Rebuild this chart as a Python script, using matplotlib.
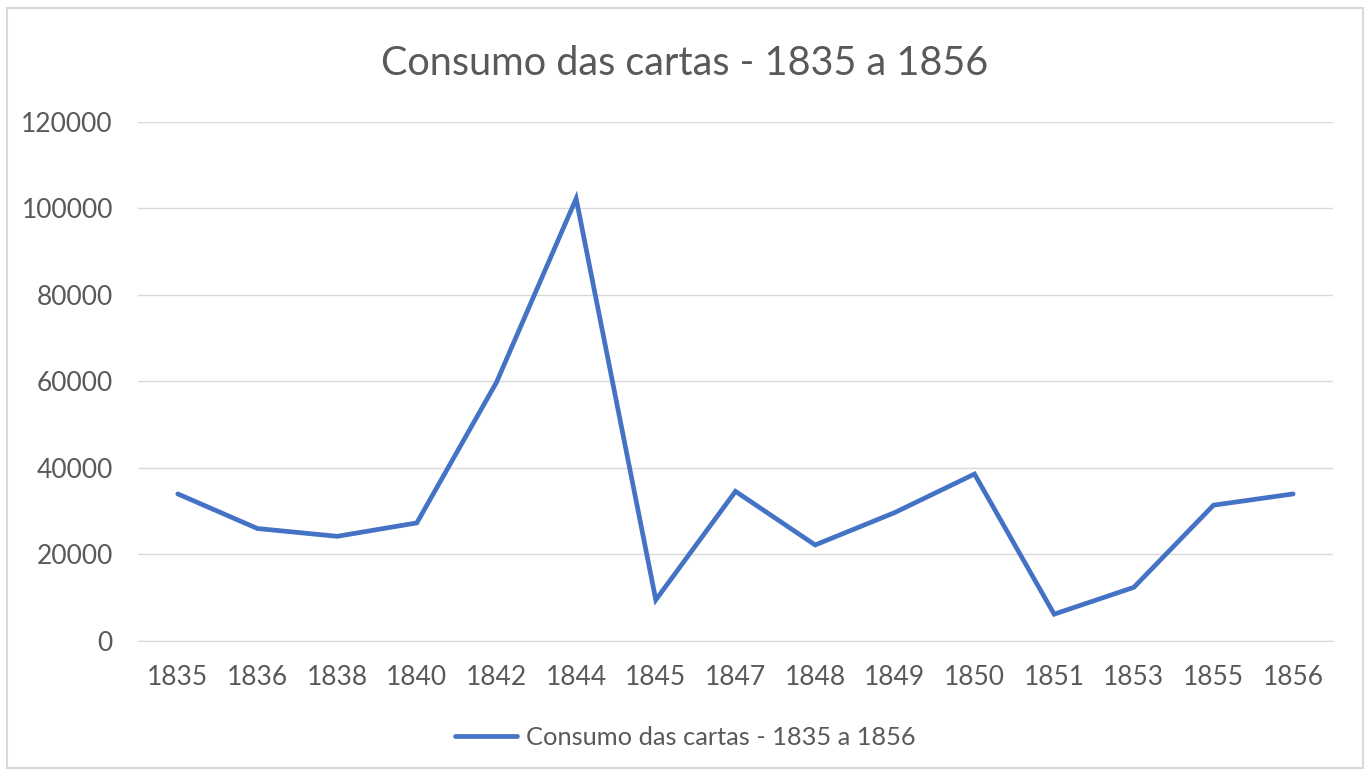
import matplotlib.pyplot as plt
from matplotlib.patches import Rectangle

plt.rcParams['font.family'] = ['Lato', 'DejaVu Sans']

anos = ["1835", "1836", "1838", "1840", "1842", "1844", "1845", "1847",
        "1848", "1849", "1850", "1851", "1853", "1855", "1856"]
consumo = [34000, 26000, 24200, 27300, 59800, 102300, 9500, 34600,
           22200, 29700, 38600, 6200, 12400, 31400, 34000]
titulo = "Consumo das cartas - 1835 a 1856"

cinza = "#595959"

fig = plt.figure(figsize=(13.7, 7.76), dpi=100)
ax = fig.add_axes([0.1007, 0.174, 0.8723, 0.6688])

x = list(range(len(anos)))
ax.plot(x, consumo, color="#4472C4", linewidth=3.4, solid_capstyle="round",
        solid_joinstyle="miter", label=titulo)

ax.set_xlim(-0.5, len(anos) - 0.5)
ax.set_ylim(0, 120000)
ax.set_yticks(range(0, 120001, 20000))
ax.set_xticks(x)
ax.set_xticklabels(anos)
ax.grid(axis="y", color="#d9d9d9", linewidth=1)
ax.set_axisbelow(True)
for s in ["top", "right", "left"]:
    ax.spines[s].set_visible(False)
ax.spines["bottom"].set_color("#d9d9d9")
ax.tick_params(length=0, labelsize=19, colors=cinza)
ax.tick_params(axis="x", pad=17)
ax.tick_params(axis="y", pad=18)

fig.text(0.5, 0.918, titulo, ha="center", va="center", fontsize=28.5, color=cinza)

ax.legend(loc="center", bbox_to_anchor=(0.5, 0.05), bbox_transform=fig.transFigure,
          frameon=False, fontsize=18.3, labelcolor=cinza, handlelength=2.45,
          handletextpad=0.35)

fig.patches.append(Rectangle((0.005, 0.01), 0.99, 0.98, transform=fig.transFigure,
                             fill=False, edgecolor="#d9d9d9", linewidth=1.5))

fig.savefig("out.png", dpi=100)
